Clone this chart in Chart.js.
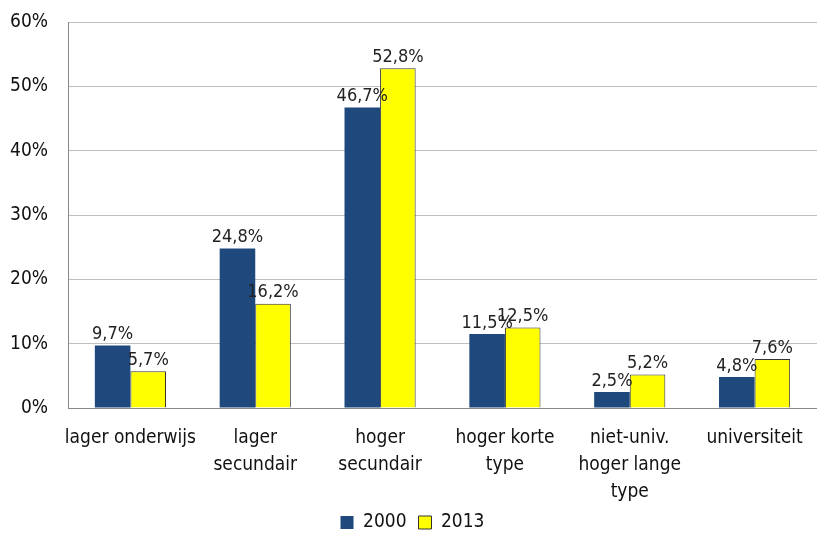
<!DOCTYPE html>
<html>
<head>
<meta charset="utf-8">
<script src="https://cdn.jsdelivr.net/npm/chart.js@4"></script>
<style>
  html, body { margin: 0; padding: 0; background: #fff; overflow: hidden; }
  #wrap { width: 817px; height: 534px; }
</style>
</head>
<body>
<div id="wrap"><canvas id="chart"></canvas></div>
<script>
const categories = [
  'lager onderwijs',
  ['lager', 'secundair'],
  ['hoger', 'secundair'],
  ['hoger korte', 'type'],
  ['niet-univ.', 'hoger lange', 'type'],
  'universiteit'
];
const values2000 = [9.7, 24.8, 46.7, 11.5, 2.5, 4.8];
const values2013 = [5.7, 16.2, 52.8, 12.5, 5.2, 7.6];
const yTicks = [0, 10, 20, 30, 40, 50, 60];

const FONT = '"Liberation Sans Narrow", "Arial Narrow", "DejaVu Sans Condensed", sans-serif';

// draws the value above each bar, like the Excel data labels
const barLabels = {
  id: 'barLabels',
  afterDatasetsDraw(chart) {
    const ctx = chart.ctx;
    ctx.save();
    ctx.font = '18px ' + FONT;
    ctx.fillStyle = '#222';
    ctx.textAlign = 'center';
    ctx.textBaseline = 'bottom';
    chart.data.datasets.forEach((ds, i) => {
      chart.getDatasetMeta(i).data.forEach((bar, j) => {
        const txt = ds.data[j].toFixed(1).replace('.', ',') + '%';
        ctx.fillText(txt, bar.x, bar.y - 2);
      });
    });
    ctx.restore();
  }
};

new Chart(document.getElementById('chart'), {
  type: 'bar',
  data: {
    labels: categories,
    datasets: [
      {
        label: '2000',
        data: values2000,
        backgroundColor: '#1f497d',
        borderColor: '#1f497d',
        borderWidth: 0,
        categoryPercentage: 0.57,
        barPercentage: 1
      },
      {
        label: '2013',
        data: values2013,
        backgroundColor: '#ffff00',
        borderColor: '#333',
        borderWidth: 1,
        categoryPercentage: 0.57,
        barPercentage: 1
      }
    ]
  },
  options: {
    responsive: true,
    maintainAspectRatio: false,
    animation: false,
    layout: { padding: { top: 22, right: -8, left: 0, bottom: -8 } },
    plugins: {
      legend: {
        position: 'bottom',
        labels: {
          font: { family: FONT, size: 19 },
          color: '#111',
          boxWidth: 13,
          boxHeight: 13,
          padding: 12
        }
      },
      tooltip: { enabled: false }
    },
    scales: {
      x: {
        afterFit(scale) {
          scale.height = 93;
          scale.paddingTop = 0;
          scale.paddingLeft = 0;
          scale.paddingRight = 0;
        },
        grid: { display: false, drawTicks: false },
        border: { color: '#888' },
        ticks: {
          font: { family: FONT, size: 19, lineHeight: 1.42 },
          color: '#111',
          padding: 17,
          maxRotation: 0,
          autoSkip: false
        }
      },
      y: {
        min: 0,
        max: 60,
        afterFit(scale) { scale.width = 68; scale.paddingTop = 0; scale.paddingBottom = 0; },
        afterBuildTicks(scale) { scale.ticks = yTicks.map(v => ({ value: v })); },
        grid: { color: '#bfbfbf', drawTicks: false },
        border: { color: '#888' },
        ticks: {
          font: { family: FONT, size: 19 },
          color: '#111',
          padding: 20,
          callback: v => v + '%'
        }
      }
    }
  },
  plugins: [barLabels]
});
</script>
</body>
</html>
